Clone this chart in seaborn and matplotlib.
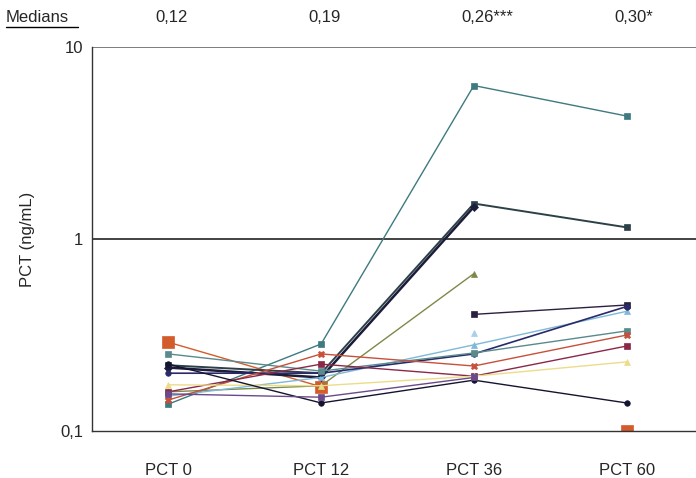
import numpy as np
import pandas as pd
import seaborn as sns
import matplotlib.pyplot as plt
from matplotlib.ticker import FixedLocator, NullLocator

times = ["PCT 0", "PCT 12", "PCT 36", "PCT 60"]
medians = ["0,12", "0,19", "0,26***", "0,30*"]
nan = np.nan

# one list per patient
p01 = [0.138, 0.284, 6.30, 4.37]
p02 = [0.290, 0.170, nan, 0.100]
p03 = [0.220, 0.200, 1.53, 1.15]
p04 = [0.214, 0.190, 1.47, nan]
p05 = [0.160, 0.172, 0.66, nan]
p06 = [nan, nan, 0.405, 0.453]
p07 = [0.152, 0.190, 0.281, 0.420]
p08 = [0.200, 0.200, 0.252, 0.445]
p09 = [0.252, 0.205, 0.255, 0.332]
p10 = [0.145, 0.252, 0.218, 0.316]
p11 = [0.160, 0.223, 0.193, 0.277]
p12 = [0.174, 0.172, 0.193, 0.229]
p13 = [0.223, 0.140, 0.184, 0.140]
p14 = [0.156, 0.150, 0.190, nan]
p15 = [nan, nan, 0.324, nan]

series = [p01, p02, p03, p04, p05, p06, p07, p08, p09, p10, p11, p12, p13, p14, p15]
colors = ["#3e7a80", "#d35c2c", "#2c4048", "#1c1c3a", "#7c8a46", "#2c2040",
          "#7fb8d8", "#2a2a6a", "#5a8a8c", "#c8503a", "#8a2848", "#ecdc8a",
          "#141430", "#6a4a8a", "#a8d0e8"]
markers = ["s", "s", "s", "D", "^", "s", "^", "o", "s", "X", "s", "^", "o", "s", "^"]
msizes = [4, 9, 5, 4, 5, 5, 4, 4, 4, 5, 4, 4, 4, 4, 4]
widths = [1.0, 1.0, 1.4, 1.8, 1.0, 1.0, 1.0, 1.2, 1.0, 1.0, 1.0, 1.0, 1.0, 1.0, 1.0]

sns.set_theme(style="white")
plt.rcParams['font.family'] = ['Liberation Sans', 'DejaVu Sans']

fig = plt.figure(figsize=(6.96, 4.78), dpi=100)
ax = fig.add_axes([92 / 696, 47 / 478, 611 / 696, 384 / 478])

for i, vals in enumerate(series):
    df = pd.DataFrame({"t": np.arange(4), "v": vals})
    # split into runs without gaps so missing visits break the line
    df["run"] = df["v"].isna().cumsum()
    df = df.dropna()
    for _, seg in df.groupby("run"):
        sns.lineplot(ax=ax, data=seg, x="t", y="v", color=colors[i], lw=widths[i],
                     marker=markers[i], markersize=msizes[i], markeredgewidth=0.5,
                     markeredgecolor=colors[i])

ax.set_yscale("log")
ax.set_ylim(0.1, 10)
ax.set_xlim(-0.5, 3.5)
ax.yaxis.set_major_locator(FixedLocator([0.1, 1, 10]))
ax.yaxis.set_minor_locator(NullLocator())
ax.set_yticklabels(["0,1", "1", "10"], fontsize=12)
ax.set_xticks([0, 1, 2, 3])
ax.set_xticklabels(times, fontsize=12)
ax.set_xticks([0.5, 1.5, 2.5], minor=True)
ax.tick_params(axis="x", which="major", length=0, pad=23)
ax.tick_params(axis="x", which="minor", length=6, width=1, color="#333333", direction="inout")
ax.tick_params(axis="y", which="major", length=6, width=1, color="#333333", direction="inout")
ax.axhline(1, color="#222222", lw=1.2, zorder=0)
ax.axhline(10, color="#666666", lw=1.2, zorder=0)
for s in ["top", "right"]:
    ax.spines[s].set_visible(False)
for s in ["left", "bottom"]:
    ax.spines[s].set_color("#333333")
    ax.spines[s].set_linewidth(1.0)
ax.set_xlabel("")
ax.set_ylabel("PCT (ng/mL)", fontsize=12, labelpad=18)

fig.text(6 / 696, 1 - 18 / 478, "Medians", fontsize=12, va="center", ha="left")
fig.add_artist(plt.Line2D([6 / 696, 78 / 696], [1 - 27 / 478, 1 - 27 / 478], color="black", lw=1))
for i, m in enumerate(medians):
    fig.text((92 + 152.75 * (i + 0.5)) / 696 - 0.018, 1 - 18 / 478, m,
             fontsize=12, va="center", ha="left")

fig.savefig("out.png", dpi=100)
